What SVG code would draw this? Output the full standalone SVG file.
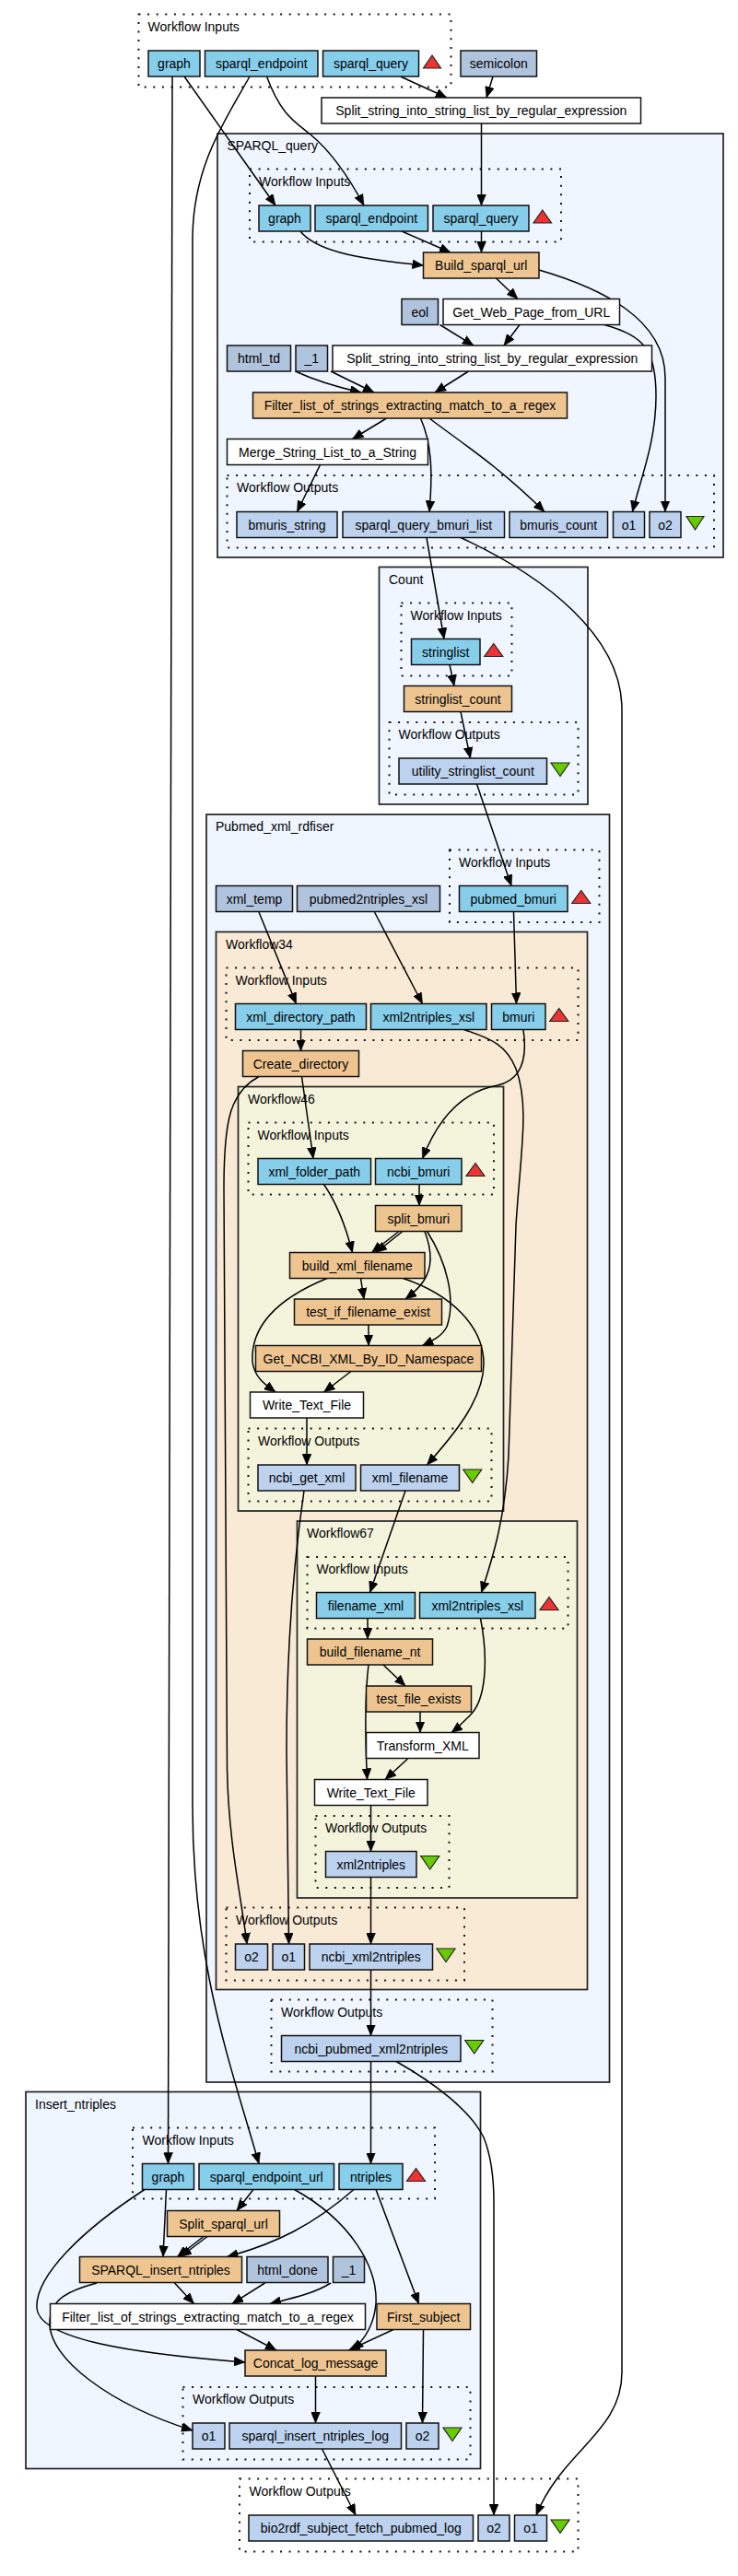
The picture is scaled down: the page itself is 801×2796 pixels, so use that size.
<svg xmlns="http://www.w3.org/2000/svg" width="801" height="2796" viewBox="0 0 801 2796">
<style>
text{font-family:"Liberation Sans",Arial,Helvetica,sans-serif;font-size:14px;fill:#000}
.t{text-anchor:middle}
.n{stroke:#111;stroke-width:1.5}
.in{fill:#87ceeb}
.out{fill:#bcd2ee}
.cst{fill:#b0c4de}
.bs{fill:#eec591}
.lw{fill:#ffffff}
.cl{stroke:#222;stroke-width:1.7}
.blue{fill:#eff6ff}
.tan{fill:#f9ead6}
.beige{fill:#f4f4dc}
.dot{fill:none;stroke:#111;stroke-width:2;stroke-dasharray:2 7.6}
.up{fill:#ee3333;stroke:#222;stroke-width:1.2}
.down{fill:#66cc00;stroke:#222;stroke-width:1.2}
#connectors path{fill:none;stroke:#000;stroke-width:1.5;marker-end:url(#ah)}
</style>
<defs>
<marker id="ah" markerUnits="userSpaceOnUse" viewBox="0 0 12 10" refX="12" refY="5" markerWidth="12" markerHeight="10" orient="auto">
<path d="M0,0 L12,5 L0,10 z" fill="#000" stroke="#000" stroke-width="0.5"/>
</marker>
</defs>
<rect width="801" height="2796" fill="#fff"/>

<g id="clusters">
<g id="top_inputs"><rect class="dot" x="150.5" y="15.5" width="339" height="79"/><text x="160.5" y="34">Workflow Inputs</text></g>

<g id="cluster_SPARQL_query"><rect class="cl blue" x="236" y="145" width="549" height="460"/><text x="246.5" y="163">SPARQL_query</text>
<rect class="dot" x="271" y="183.5" width="338" height="79"/><text x="281" y="202">Workflow Inputs</text>
<rect class="dot" x="246.5" y="516" width="528.5" height="78.5"/><text x="257" y="534">Workflow Outputs</text></g>

<g id="cluster_Count"><rect class="cl blue" x="411.5" y="615.5" width="226.5" height="257.5"/><text x="422" y="634">Count</text>
<rect class="dot" x="435.5" y="654.5" width="120" height="79"/><text x="445.5" y="673">Workflow Inputs</text>
<rect class="dot" x="422.5" y="784" width="205" height="78.5"/><text x="432.5" y="802">Workflow Outputs</text></g>

<g id="cluster_Pubmed"><rect class="cl blue" x="224" y="884" width="437.5" height="1376"/><text x="234" y="902">Pubmed_xml_rdfiser</text>
<rect class="dot" x="488" y="922.5" width="162.5" height="78.5"/><text x="498" y="941">Workflow Inputs</text>
<rect class="dot" x="294.5" y="2170.5" width="240" height="78"/><text x="305" y="2189">Workflow Outputs</text></g>

<g id="cluster_Workflow34"><rect class="cl tan" x="234.5" y="1011.5" width="403" height="1148"/><text x="245" y="1030">Workflow34</text>
<rect class="dot" x="245.5" y="1050.5" width="382" height="78.5"/><text x="255.5" y="1069">Workflow Inputs</text>
<rect class="dot" x="245.5" y="2070.5" width="258.5" height="79"/><text x="256" y="2089">Workflow Outputs</text></g>

<g id="cluster_Workflow46"><rect class="cl beige" x="258.5" y="1179.5" width="288" height="460.5"/><text x="269" y="1198">Workflow46</text>
<rect class="dot" x="269.5" y="1218.5" width="266.5" height="78"/><text x="279.5" y="1237">Workflow Inputs</text>
<rect class="dot" x="269.5" y="1550.5" width="264" height="79"/><text x="280" y="1569">Workflow Outputs</text></g>

<g id="cluster_Workflow67"><rect class="cl beige" x="322.5" y="1651" width="304" height="409"/><text x="333" y="1669">Workflow67</text>
<rect class="dot" x="333.5" y="1690" width="283" height="77.5"/><text x="343.5" y="1708">Workflow Inputs</text>
<rect class="dot" x="342.5" y="1971" width="145" height="78"/><text x="353" y="1989">Workflow Outputs</text></g>

<g id="cluster_Insert_ntriples"><rect class="cl blue" x="28" y="2270.5" width="493.5" height="409"/><text x="38" y="2289">Insert_ntriples</text>
<rect class="dot" x="144" y="2309.5" width="328" height="77"/><text x="154.5" y="2328">Workflow Inputs</text>
<rect class="dot" x="198.5" y="2591" width="312" height="78.5"/><text x="209" y="2609">Workflow Outputs</text></g>

<g id="bottom_outputs"><rect class="dot" x="260" y="2690.5" width="367.5" height="79"/><text x="270.5" y="2709">Workflow Outputs</text></g>
</g>

<g id="connectors">
<path d="M187,83 L182.5,2348.5"/>
<path d="M200,83 L299,223"/>
<path d="M289.5,83 C305,125 320,132 337,146 C360,165 380,195 395,223"/>
<path d="M271,83 C245,130 209,180 209,260 L209,1960 C209,2130 250,2240 281,2348.5"/>
<path d="M434.5,83 L485,106"/>
<path d="M535,83 L528,106"/>
<path d="M522.5,134 L522.5,223"/>
<path d="M326,251 C345,275 400,282 459.5,288"/>
<path d="M436,251 L489,274"/>
<path d="M522.5,251 L522.5,274"/>
<path d="M538.5,302 L562,324.5"/>
<path d="M585,293 C650,312 722,345 722,410 L722,555.5"/>
<path d="M564,352.5 L547,375"/>
<path d="M477.5,352.5 L514,375"/>
<path d="M656,352.5 C700,365 712,380 712,430 C712,480 695,520 686.5,555.5"/>
<path d="M320.5,403 C340,412 365,420 392,426"/>
<path d="M359,403 L406,426"/>
<path d="M508.5,403 L472,426"/>
<path d="M419.5,454 L382.5,476.5"/>
<path d="M456.5,454 C468,480 470,510 466,555.5"/>
<path d="M466,454 C500,480 540,505 591,555.5"/>
<path d="M347.5,504.5 L322.5,555.5"/>
<path d="M463,583.5 L482,693.5"/>
<path d="M500,583.5 C590,625 675,690 675,770 L675,2575 C675,2640 610,2660 582,2730"/>
<path d="M488,721.5 L493,744.5"/>
<path d="M500,772.5 L510.5,823"/>
<path d="M517.5,851 L555,961.5"/>
<path d="M281,990 L321.5,1089.5"/>
<path d="M406.5,990 L458.5,1089.5"/>
<path d="M557.5,990 L560.5,1089.5"/>
<path d="M326.5,1117.5 L326.5,1140.5"/>
<path d="M327.5,1168.5 L340,1257.5"/>
<path d="M281,1168.5 C250,1185 243,1215 243,1290 L246.5,1920 C248,2000 262,2060 268,2110"/>
<path d="M568,1117.5 C572,1145 568,1172 540,1178 C500,1185 475,1215 458.5,1257.5"/>
<path d="M503.5,1117.5 C535,1128 550,1135 560,1160 C575,1200 565,1250 560,1330 L552,1580 C548,1650 535,1690 522.5,1728.5"/>
<path d="M351.5,1285.5 C365,1305 375,1330 382.5,1359.5"/>
<path d="M455,1285.5 L455,1308.5"/>
<path d="M437,1336.5 L408,1359.5"/>
<path d="M433,1336.5 L403.5,1359.5"/>
<path d="M461,1336.5 C468,1355 470,1375 460,1390 C455,1398 448,1404 440,1410"/>
<path d="M463.5,1336.5 C485,1370 495,1410 485,1440 C480,1450 470,1455 458.5,1460.5"/>
<path d="M391.5,1387.5 L395,1410"/>
<path d="M355,1387.5 C300,1410 272,1440 274,1478 C276,1495 288,1503 299,1511"/>
<path d="M437.5,1387.5 C490,1405 525,1440 525,1480 C525,1520 490,1560 463.5,1590"/>
<path d="M400,1438 L400,1460.5"/>
<path d="M381,1488.5 L351.5,1511"/>
<path d="M333,1539 L333,1590"/>
<path d="M330,1618 C318,1700 311,1800 311,1900 L313.5,2110"/>
<path d="M440,1618 L401.5,1728.5"/>
<path d="M399,1756.5 L399,1779"/>
<path d="M416,1807 L440,1830"/>
<path d="M400,1807 C396,1840 396,1880 398.5,1931.5"/>
<path d="M456,1858 L456,1880.5"/>
<path d="M521.5,1756.5 C530,1800 528,1845 510,1862 C502,1870 496,1876 490,1880.5"/>
<path d="M442.5,1909 L418,1931.5"/>
<path d="M402.5,1959.5 L402.5,2009.5"/>
<path d="M402.5,2037.5 L402.5,2110"/>
<path d="M402.5,2138 L402.5,2209.5"/>
<path d="M402.5,2237.5 L402.5,2348.5"/>
<path d="M430,2237.5 C470,2260 510,2290 525,2320 C533,2340 536,2360 536,2390 L536,2730"/>
<path d="M180.5,2376.5 L177,2449.5"/>
<path d="M157,2376.5 C90,2420 38,2470 40,2505 C42,2540 150,2555 266,2564"/>
<path d="M275,2376.5 L257,2399.5"/>
<path d="M225,2427.5 L196,2449.5"/>
<path d="M221,2427.5 L192.5,2449.5"/>
<path d="M319.5,2376.5 C380,2410 410,2460 408,2500 C406,2525 395,2540 382.5,2551"/>
<path d="M384,2376.5 C340,2415 300,2435 246.5,2449.5"/>
<path d="M408,2376.5 L454.5,2500.5"/>
<path d="M189.5,2478 L210.5,2500.5"/>
<path d="M287.5,2478 L252,2500.5"/>
<path d="M359,2478 C340,2490 315,2495 293,2500.5"/>
<path d="M105,2478 C75,2486 55,2495 54,2520 C52,2560 120,2610 209,2638"/>
<path d="M257,2528.5 L300,2551"/>
<path d="M427,2528.5 L378.5,2551"/>
<path d="M459.5,2528.5 L458.5,2630"/>
<path d="M342.5,2579 L342.5,2630"/>
<path d="M349.5,2658 L386,2730"/>
</g>

<g id="nodes">
<g id="in_graph"><rect class="n in" x="161" y="55" width="56" height="28"/><text class="t" x="189" y="74">graph</text></g>
<g id="in_sparql_endpoint"><rect class="n in" x="222.5" y="55" width="122.5" height="28"/><text class="t" x="283.75" y="74">sparql_endpoint</text></g>
<g id="in_sparql_query"><rect class="n in" x="350.5" y="55" width="104" height="28"/><text class="t" x="402.5" y="74">sparql_query</text></g>
<polygon class="up" points="469,60 459.5,74 478.5,74"/>
<g id="semicolon"><rect class="n cst" x="500" y="55" width="82.5" height="28"/><text class="t" x="541.25" y="74">semicolon</text></g>
<g id="split_top"><rect class="n lw" x="349" y="106" width="346.5" height="28"/><text class="t" x="522.25" y="125">Split_string_into_string_list_by_regular_expression</text></g>

<g id="sq_graph"><rect class="n in" x="281" y="223" width="56" height="28"/><text class="t" x="309" y="242">graph</text></g>
<g id="sq_sparql_endpoint"><rect class="n in" x="342" y="223" width="122.5" height="28"/><text class="t" x="403.25" y="242">sparql_endpoint</text></g>
<g id="sq_sparql_query"><rect class="n in" x="470" y="223" width="104" height="28"/><text class="t" x="522" y="242">sparql_query</text></g>
<polygon class="up" points="588.75,228 579,242 598.5,242"/>
<g id="Build_sparql_url"><rect class="n bs" x="459.5" y="274" width="125.5" height="28"/><text class="t" x="522.25" y="293">Build_sparql_url</text></g>
<g id="eol"><rect class="n cst" x="436" y="324.5" width="39.5" height="28"/><text class="t" x="455.75" y="343.5">eol</text></g>
<g id="Get_Web_Page_from_URL"><rect class="n lw" x="481" y="324.5" width="191.5" height="28"/><text class="t" x="576.75" y="343.5">Get_Web_Page_from_URL</text></g>
<g id="html_td"><rect class="n cst" x="246.5" y="375" width="69" height="28"/><text class="t" x="281" y="394">html_td</text></g>
<g id="sq_1"><rect class="n cst" x="321" y="375" width="34.5" height="28"/><text class="t" x="338.25" y="394">_1</text></g>
<g id="split_sq"><rect class="n lw" x="361" y="375" width="346.5" height="28"/><text class="t" x="534.25" y="394">Split_string_into_string_list_by_regular_expression</text></g>
<g id="Filter_sq"><rect class="n bs" x="274.5" y="426" width="341" height="28"/><text class="t" x="445" y="445">Filter_list_of_strings_extracting_match_to_a_regex</text></g>
<g id="Merge"><rect class="n lw" x="246.5" y="476.5" width="218" height="28"/><text class="t" x="355.5" y="495.5">Merge_String_List_to_a_String</text></g>
<g id="bmuris_string"><rect class="n out" x="257" y="555.5" width="109" height="28"/><text class="t" x="311.5" y="574.5">bmuris_string</text></g>
<g id="sparql_query_bmuri_list"><rect class="n out" x="372" y="555.5" width="175.5" height="28"/><text class="t" x="459.75" y="574.5">sparql_query_bmuri_list</text></g>
<g id="bmuris_count"><rect class="n out" x="553" y="555.5" width="106.5" height="28"/><text class="t" x="606.25" y="574.5">bmuris_count</text></g>
<g id="sq_o1"><rect class="n out" x="665.5" y="555.5" width="34" height="28"/><text class="t" x="682.5" y="574.5">o1</text></g>
<g id="sq_o2"><rect class="n out" x="705" y="555.5" width="34" height="28"/><text class="t" x="722" y="574.5">o2</text></g>
<polygon class="down" points="745,560.5 764,560.5 754.5,575"/>

<g id="stringlist"><rect class="n in" x="446.5" y="693.5" width="74.5" height="28"/><text class="t" x="483.75" y="712.5">stringlist</text></g>
<polygon class="up" points="535.75,698.5 525.75,712.5 545.75,712.5"/>
<g id="stringlist_count"><rect class="n bs" x="438.5" y="744.5" width="117" height="28"/><text class="t" x="497" y="763.5">stringlist_count</text></g>
<g id="utility_stringlist_count"><rect class="n out" x="433" y="823" width="160.5" height="28"/><text class="t" x="513.25" y="842">utility_stringlist_count</text></g>
<polygon class="down" points="598,828 618,828 608,842.5"/>

<g id="xml_temp"><rect class="n cst" x="234.5" y="961.5" width="83" height="28"/><text class="t" x="276" y="980.5">xml_temp</text></g>
<g id="pubmed2ntriples_xsl"><rect class="n cst" x="322.5" y="961.5" width="155" height="28"/><text class="t" x="400" y="980.5">pubmed2ntriples_xsl</text></g>
<g id="pubmed_bmuri"><rect class="n in" x="498.5" y="961.5" width="117.5" height="28"/><text class="t" x="557.25" y="980.5">pubmed_bmuri</text></g>
<polygon class="up" points="630.75,966.5 620.75,980.5 640.75,980.5"/>

<g id="xml_directory_path"><rect class="n in" x="255.5" y="1089.5" width="142" height="28"/><text class="t" x="326.5" y="1108.5">xml_directory_path</text></g>
<g id="w34_xml2ntriples_xsl"><rect class="n in" x="402.5" y="1089.5" width="125.5" height="28"/><text class="t" x="465.25" y="1108.5">xml2ntriples_xsl</text></g>
<g id="bmuri"><rect class="n in" x="533.5" y="1089.5" width="58.5" height="28"/><text class="t" x="562.75" y="1108.5">bmuri</text></g>
<polygon class="up" points="606.75,1094.5 596.75,1108.5 616.75,1108.5"/>
<g id="Create_directory"><rect class="n bs" x="263.5" y="1140.5" width="126" height="28"/><text class="t" x="326.5" y="1159.5">Create_directory</text></g>

<g id="xml_folder_path"><rect class="n in" x="280" y="1257.5" width="122.5" height="28"/><text class="t" x="341.25" y="1276.5">xml_folder_path</text></g>
<g id="ncbi_bmuri"><rect class="n in" x="407.5" y="1257.5" width="93.5" height="28"/><text class="t" x="454.25" y="1276.5">ncbi_bmuri</text></g>
<polygon class="up" points="516,1262.5 506,1276.5 526,1276.5"/>
<g id="split_bmuri"><rect class="n bs" x="407.5" y="1308.5" width="93.5" height="28"/><text class="t" x="454.25" y="1327.5">split_bmuri</text></g>
<g id="build_xml_filename"><rect class="n bs" x="314.5" y="1359.5" width="146.5" height="28"/><text class="t" x="387.75" y="1378.5">build_xml_filename</text></g>
<g id="test_if_filename_exist"><rect class="n bs" x="319.5" y="1410" width="160" height="28"/><text class="t" x="399.5" y="1429">test_if_filename_exist</text></g>
<g id="Get_NCBI_XML_By_ID_Namespace"><rect class="n bs" x="277.5" y="1460.5" width="245" height="28"/><text class="t" x="400" y="1479.5">Get_NCBI_XML_By_ID_Namespace</text></g>
<g id="w46_Write_Text_File"><rect class="n lw" x="271.5" y="1511" width="123" height="28"/><text class="t" x="333" y="1530">Write_Text_File</text></g>
<g id="ncbi_get_xml"><rect class="n out" x="280" y="1590" width="106" height="28"/><text class="t" x="333" y="1609">ncbi_get_xml</text></g>
<g id="xml_filename"><rect class="n out" x="391.5" y="1590" width="107" height="28"/><text class="t" x="445" y="1609">xml_filename</text></g>
<polygon class="down" points="502.75,1595 522.75,1595 512.75,1609.5"/>

<g id="filename_xml"><rect class="n in" x="343.5" y="1728.5" width="107" height="28"/><text class="t" x="397" y="1747.5">filename_xml</text></g>
<g id="w67_xml2ntriples_xsl"><rect class="n in" x="455.5" y="1728.5" width="125.5" height="28"/><text class="t" x="518.25" y="1747.5">xml2ntriples_xsl</text></g>
<polygon class="up" points="596,1733.5 586,1747.5 606,1747.5"/>
<g id="build_filename_nt"><rect class="n bs" x="333.5" y="1779" width="136" height="28"/><text class="t" x="401.5" y="1798">build_filename_nt</text></g>
<g id="test_file_exists"><rect class="n bs" x="397.5" y="1830" width="114" height="28"/><text class="t" x="454.5" y="1849">test_file_exists</text></g>
<g id="Transform_XML"><rect class="n lw" x="397.5" y="1880.5" width="122.5" height="28"/><text class="t" x="458.75" y="1899.5">Transform_XML</text></g>
<g id="w67_Write_Text_File"><rect class="n lw" x="341.5" y="1931.5" width="122.5" height="28"/><text class="t" x="402.75" y="1950.5">Write_Text_File</text></g>
<g id="xml2ntriples"><rect class="n out" x="353.5" y="2009.5" width="98.5" height="28"/><text class="t" x="402.75" y="2028.5">xml2ntriples</text></g>
<polygon class="down" points="456.75,2014.5 476.75,2014.5 466.75,2029"/>

<g id="w34_o2"><rect class="n out" x="255.5" y="2110" width="35" height="28"/><text class="t" x="273" y="2129">o2</text></g>
<g id="w34_o1"><rect class="n out" x="296" y="2110" width="34.5" height="28"/><text class="t" x="313.25" y="2129">o1</text></g>
<g id="ncbi_xml2ntriples"><rect class="n out" x="336" y="2110" width="133.5" height="28"/><text class="t" x="402.75" y="2129">ncbi_xml2ntriples</text></g>
<polygon class="down" points="474,2115 494,2115 484,2129.5"/>

<g id="ncbi_pubmed_xml2ntriples"><rect class="n out" x="305.5" y="2209.5" width="194.5" height="28"/><text class="t" x="402.75" y="2228.5">ncbi_pubmed_xml2ntriples</text></g>
<polygon class="down" points="504.75,2214.5 524.75,2214.5 514.75,2229"/>

<g id="ins_graph"><rect class="n in" x="154.5" y="2348.5" width="56" height="28"/><text class="t" x="182.5" y="2367.5">graph</text></g>
<g id="sparql_endpoint_url"><rect class="n in" x="216" y="2348.5" width="146.5" height="28"/><text class="t" x="289.25" y="2367.5">sparql_endpoint_url</text></g>
<g id="ntriples"><rect class="n in" x="368" y="2348.5" width="69" height="28"/><text class="t" x="402.5" y="2367.5">ntriples</text></g>
<polygon class="up" points="451.5,2353.5 441.5,2367.5 461.5,2367.5"/>
<g id="Split_sparql_url"><rect class="n bs" x="181.5" y="2399.5" width="122" height="28"/><text class="t" x="242.5" y="2418.5">Split_sparql_url</text></g>
<g id="SPARQL_insert_ntriples"><rect class="n bs" x="86.5" y="2449.5" width="176" height="28"/><text class="t" x="174.5" y="2468.5">SPARQL_insert_ntriples</text></g>
<g id="html_done"><rect class="n cst" x="268" y="2449.5" width="88" height="28"/><text class="t" x="312" y="2468.5">html_done</text></g>
<g id="ins_1"><rect class="n cst" x="361.5" y="2449.5" width="34" height="28"/><text class="t" x="378.5" y="2468.5">_1</text></g>
<g id="Filter_ins"><rect class="n lw" x="54.5" y="2500.5" width="342" height="28"/><text class="t" x="225.5" y="2519.5">Filter_list_of_strings_extracting_match_to_a_regex</text></g>
<g id="First_subject"><rect class="n bs" x="409" y="2500.5" width="101.5" height="28"/><text class="t" x="459.75" y="2519.5">First_subject</text></g>
<g id="Concat_log_message"><rect class="n bs" x="266" y="2551" width="153" height="28"/><text class="t" x="342.5" y="2570">Concat_log_message</text></g>
<g id="ins_o1"><rect class="n out" x="209" y="2630" width="35" height="28"/><text class="t" x="226.5" y="2649">o1</text></g>
<g id="sparql_insert_ntriples_log"><rect class="n out" x="249" y="2630" width="186.5" height="28"/><text class="t" x="342.25" y="2649">sparql_insert_ntriples_log</text></g>
<g id="ins_o2"><rect class="n out" x="441" y="2630" width="35" height="28"/><text class="t" x="458.5" y="2649">o2</text></g>
<polygon class="down" points="481,2635 501,2635 491,2649.5"/>

<g id="bio2rdf_subject_fetch_pubmed_log"><rect class="n out" x="270" y="2730" width="243.5" height="28"/><text class="t" x="391.75" y="2749">bio2rdf_subject_fetch_pubmed_log</text></g>
<g id="out_o2"><rect class="n out" x="519" y="2730" width="34" height="28"/><text class="t" x="536" y="2749">o2</text></g>
<g id="out_o1"><rect class="n out" x="558.5" y="2730" width="35" height="28"/><text class="t" x="576" y="2749">o1</text></g>
<polygon class="down" points="598,2735 618,2735 608,2749.5"/>
</g>
</svg>
